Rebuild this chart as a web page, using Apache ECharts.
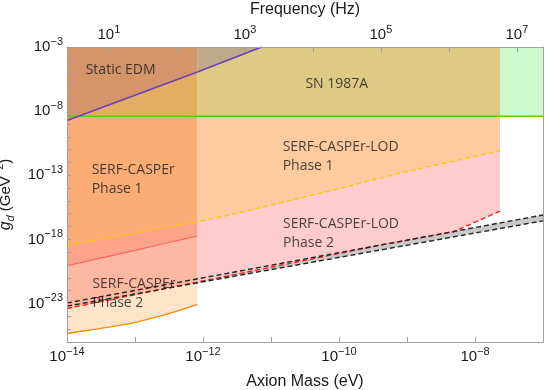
<!DOCTYPE html>
<html><head><meta charset="utf-8">
<script src="https://cdn.jsdelivr.net/npm/echarts@6/dist/echarts.min.js"></script>
<style>html,body{margin:0;padding:0;background:#fff}#c{width:545px;height:390px}</style>
</head><body><div id="c"></div>
<script>
// ---- data (axion mass in eV, coupling g_d in GeV^-2) ----
const massMin = 1e-14, massMax = 1e-7;
const columnEdge = 8.27e-13;   // right edge of SERF-CASPEr regions
const lodEdge = 2.33e-8;       // right edge of SERF-CASPEr-LOD regions
const hzPerEv = 2.418e14;      // frequency per eV

const edmMass = [1e-14, 8.27e-13, 7.3e-12];
const edmG    = [1.85e-9, 1.12e-5, 1e-3];

const snMass = [1e-14, 8.27e-13, 2.33e-8, 1e-7];
const snG    = [4e-9, 4e-9, 4e-9, 4e-9];

const lod1Mass = [1e-14, 8.27e-13, 3.2e-12, 6.6e-11, 7.8e-10, 2.33e-8];
const lod1G    = [3.3e-19, 2.3e-17, 1.1e-16, 5.2e-15, 1.45e-13, 8e-12];

const lod2Mass = [1e-14, 8.27e-13, 4e-10, 4.8e-9, 2.33e-8];
const lod2G    = [4.1e-24, 4.7e-22, 3.5e-19, 3.9e-18, 1.6e-16];

const ph1Mass = [1e-14, 1e-13, 3e-13, 8.27e-13];
const ph1G    = [9e-21, 1.4e-19, 5.5e-19, 1.8e-18];

const ph2Mass = [1e-14, 3e-14, 9.3e-14, 2.9e-13, 8.27e-13];
const ph2G    = [4.6e-26, 1.1e-25, 3e-25, 1.45e-24, 8.3e-24];

const qcdMass   = [1e-14, 1e-7];
const qcdUpperG = [1.1e-23, 8e-17];
const qcdLowerG = [6.2e-24, 2.8e-17];

const yTickExps = [-23, -18, -13, -8, -3];
const xTickExps = [-14, -12, -10, -8];
const fTickExps = [1, 3, 5, 7];

const labelTexts = ['Static EDM', 'SN 1987A', 'SERF-CASPEr\nPhase 1', 'SERF-CASPEr-LOD\nPhase 1', 'SERF-CASPEr-LOD\nPhase 2', 'SERF-CASPEr\nPhase 2'];
const labelMass  = [1.88e-14, 3.2e-11, 2.3e-14, 1.48e-11, 1.5e-11, 2.36e-14];
const labelG     = [1.5e-5, 1.3e-6, 4.7e-14, 3.1e-12, 2.7e-18, 6.3e-23];

// ---- helpers ----
function pts(ms, gs, lo, hi) {
  const out = [];
  ms.forEach((m, i) => { if (m >= lo * 0.999 && m <= hi * 1.001) out.push([m, Math.log10(gs[i])]); });
  return out;
}
function fill(data, color) {
  return {type: 'line', data, symbol: 'none', silent: true, animation: false,
    lineStyle: {width: 0, opacity: 0}, areaStyle: {color, opacity: 1, origin: 'end'}};
}
function curve(data, color, width, dashed) {
  return {type: 'line', data, symbol: 'none', silent: true, animation: false,
    lineStyle: {color, width, type: dashed ? [5, 3] : 'solid'}};
}
function pow10(e) {
  const s = e < 0 ? '\u2212' + (-e) : '' + e;
  return '{b|10}{s|' + s + '}';
}
const tickFont = 'Liberation Sans, Arial, sans-serif';
const rich = {
  b: {fontFamily: tickFont, fontSize: 15, color: '#1a1a1a', lineHeight: 22},
  s: {fontFamily: tickFont, fontSize: 11, color: '#1a1a1a', lineHeight: 12, verticalAlign: 'top'}
};
function logFormatter(list) {
  return function (v) {
    const l = Math.log10(v), e = Math.round(l);
    if (Math.abs(l - e) > 1e-6 || list.indexOf(e) < 0) return '';
    return pow10(e);
  };
}
const frame = {lineStyle: {color: '#a0a0a0', width: 1}};

const chart = echarts.init(document.getElementById('c'), null, {renderer: 'canvas'});
chart.setOption({
  animation: false,
  backgroundColor: '#fff',
  grid: {left: 67, right: 2, top: 47, bottom: 48, containLabel: false, outerBoundsMode: 'none'},
  xAxis: [
    {type: 'log', min: massMin, max: massMax, position: 'bottom', z: 10,
     name: 'Axion Mass (eV)', nameLocation: 'middle', nameGap: 32,
     nameTextStyle: {fontFamily: tickFont, fontSize: 16, color: '#1a1a1a'},
     axisLine: frame, axisTick: {inside: true, length: 5, lineStyle: {color: '#a0a0a0'}},
     splitLine: {show: false},
     axisLabel: {formatter: logFormatter(xTickExps), rich, margin: 4}},
    {type: 'log', min: massMin * hzPerEv, max: massMax * hzPerEv, position: 'top', z: 10,
     name: 'Frequency (Hz)', nameLocation: 'middle', nameGap: 29,
     nameTextStyle: {fontFamily: tickFont, fontSize: 16, color: '#1a1a1a'},
     axisLine: frame, axisTick: {inside: true, length: 5, lineStyle: {color: '#a0a0a0'}},
     splitLine: {show: false},
     axisLabel: {formatter: logFormatter(fTickExps), rich, margin: 1}}
  ],
  yAxis: [
    {type: 'value', min: -26, max: -3, interval: 1, position: 'left', z: 10,
     name: '{i|g}{sub|d}{n| (GeV}{sup|\u22122}{n|)}', nameLocation: 'middle', nameGap: 47,
     nameTextStyle: {fontFamily: tickFont, fontSize: 15, color: '#1a1a1a', rich: {
       i: {fontFamily: tickFont, fontSize: 16, fontStyle: 'italic', color: '#1a1a1a', lineHeight: 22},
       sub: {fontFamily: tickFont, fontSize: 11, fontStyle: 'italic', color: '#1a1a1a', lineHeight: 14, verticalAlign: 'bottom'},
       n: {fontFamily: tickFont, fontSize: 15, color: '#1a1a1a', lineHeight: 22},
       sup: {fontFamily: tickFont, fontSize: 11, color: '#1a1a1a', lineHeight: 12, verticalAlign: 'top'}}},
     axisLine: {show: true, lineStyle: {color: '#a0a0a0', width: 1}},
     axisTick: {inside: true, length: 4, lineStyle: {color: '#a0a0a0'}},
     splitLine: {show: false},
     axisLabel: {formatter: v => yTickExps.indexOf(Math.round(v)) >= 0 && Math.abs(v - Math.round(v)) < 1e-6 ? pow10(Math.round(v)) : '', rich, margin: 4}},
    {type: 'value', min: -26, max: -3, interval: 1, position: 'right', z: 10,
     axisLine: {show: true, lineStyle: {color: '#a0a0a0', width: 1}},
     axisTick: {show: false}, axisLabel: {show: false}, splitLine: {show: false}}
  ],
  series: [
    // left column (SERF-CASPEr range)
    fill(pts(ph2Mass, ph2G, massMin, columnEdge), '#fde3c8'),
    fill(pts(lod2Mass, lod2G, massMin, columnEdge), '#fcb8a0'),
    fill(pts(ph1Mass, ph1G, massMin, columnEdge), '#fca48a'),
    fill(pts(lod1Mass, lod1G, massMin, columnEdge), '#fcad75'),
    fill(pts(snMass, snG, massMin, columnEdge), '#e4ae62'),
    fill(pts(edmMass, edmG, massMin, columnEdge), '#d4956b'),
    // right column (LOD only)
    fill(pts(lod2Mass, lod2G, columnEdge, lodEdge), '#fecccc'),
    fill(pts(lod1Mass, lod1G, columnEdge, lodEdge), '#fecba0'),
    fill(pts(snMass, snG, columnEdge, lodEdge), '#dec985'),
    fill(pts(edmMass, edmG, columnEdge, massMax), '#c0a98a'),
    // far right (SN only)
    fill(pts(snMass, snG, lodEdge, massMax), '#ccfacc'),
    // QCD band between the two dashed lines
    {type: 'custom', coordinateSystem: 'cartesian2d', silent: true, clip: true, animation: false,
     data: [[qcdMass[0], Math.log10(qcdUpperG[0])]],
     renderItem: function (params, api) {
       const up = qcdMass.map((m, i) => api.coord([m, Math.log10(qcdUpperG[i])]));
       const lo = qcdMass.map((m, i) => api.coord([m, Math.log10(qcdLowerG[i])])).reverse();
       return {type: 'polygon', shape: {points: up.concat(lo)}, style: {fill: 'rgba(90,90,90,0.33)'}};
     }},
    // curves
    curve(pts(lod1Mass, lod1G, massMin, massMax), '#ffc800', 1.3, true),
    curve(pts(lod2Mass, lod2G, massMin, massMax), '#ff1a1a', 1.3, true),
    curve(pts(ph1Mass, ph1G, massMin, massMax), '#ff6464', 1.2, false),
    curve(pts(ph2Mass, ph2G, massMin, massMax), '#ff8a00', 1.3, false),
    curve(pts(snMass, snG, massMin, massMax), '#62cc00', 1.6, false),
    curve(pts(edmMass, edmG, massMin, massMax), '#6a3fc0', 1.5, false),
    curve(pts(qcdMass, qcdUpperG, massMin, massMax), '#222222', 1.4, true),
    curve(pts(qcdMass, qcdLowerG, massMin, massMax), '#222222', 1.4, true),
    // region labels
    {type: 'scatter', silent: true, symbolSize: 0.1, itemStyle: {color: 'transparent'}, z: 5,
     data: labelMass.map((m, i) => [m, Math.log10(labelG[i]), labelTexts[i]]),
     label: {show: true, position: 'right', distance: 0, formatter: p => p.data[2],
       fontFamily: 'Open Sans', fontSize: 14, color: '#1a1a1a', lineHeight: 19, align: 'left'}}
  ]
});
</script></body></html>
